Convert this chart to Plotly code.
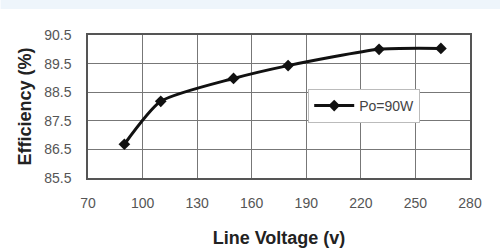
import plotly.graph_objects as go

voltage = [90, 110, 150, 180, 230, 264]
efficiency = [86.68, 88.18, 88.98, 89.43, 90.0, 90.03]
series_name = "Po=90W"
x_ticks = [70, 100, 130, 160, 190, 220, 250, 280]
y_ticks = [85.5, 86.5, 87.5, 88.5, 89.5, 90.5]

W, H = 500, 251
L, R, T, B = 87.5, 30, 35, 73
pw, ph = W - L - R, H - T - B

fig = go.Figure()
fig.add_trace(go.Scatter(
    x=voltage, y=efficiency, name=series_name, mode="lines+markers",
    line=dict(color="#111111", width=3, shape="spline", smoothing=0.6),
    marker=dict(symbol="diamond", size=9, color="#111111"),
))

fig.update_layout(
    width=W, height=H,
    margin=dict(l=L, r=R, t=T, b=B, pad=0, autoexpand=False),
    paper_bgcolor="white", plot_bgcolor="white",
    font=dict(family="Arial, Liberation Sans, sans-serif", color="#444444", size=12),
    showlegend=True,
    legend=dict(
        x=(308 - L) / pw, y=(H - B - 89) / ph, xanchor="left", yanchor="top",
        bordercolor="#bbbbbb", borderwidth=1, bgcolor="white",
        font=dict(size=14, color="#444444"), itemwidth=40,
    ),
    xaxis=dict(
        range=[70, 280], tickvals=x_ticks, ticktext=[str(v) for v in x_ticks],
        showgrid=True, gridcolor="#777777", gridwidth=1,
        showline=True, linecolor="#555555", linewidth=1.5, mirror=True,
        ticks="", ticklen=0, tickfont=dict(size=14, color="#555555"),
        ticklabelstandoff=11, automargin=False,
        zeroline=False,
        title=dict(text="<b>Line Voltage (v)</b>", font=dict(size=18, color="#222222"), standoff=22),
    ),
    yaxis=dict(
        range=[85.5, 90.5], tickvals=y_ticks, ticktext=[str(v) for v in y_ticks],
        showgrid=True, gridcolor="#777777", gridwidth=1,
        showline=True, linecolor="#555555", linewidth=1.5, mirror=True,
        ticks="", tickfont=dict(size=14, color="#555555"),
        ticklabelstandoff=12, automargin=False,
        zeroline=False,
        title=dict(text="<b>Efficiency (%)</b>", font=dict(size=18, color="#222222"), standoff=8),
    ),
    shapes=[dict(
        type="rect", xref="paper", yref="paper", layer="below",
        x0=-L / pw, x1=(W - L) / pw,
        y0=(H - B - 9) / ph, y1=(H - B) / ph,
        fillcolor="#eef5fb", line=dict(width=0),
    )],
)

fig.write_html("out.html")
